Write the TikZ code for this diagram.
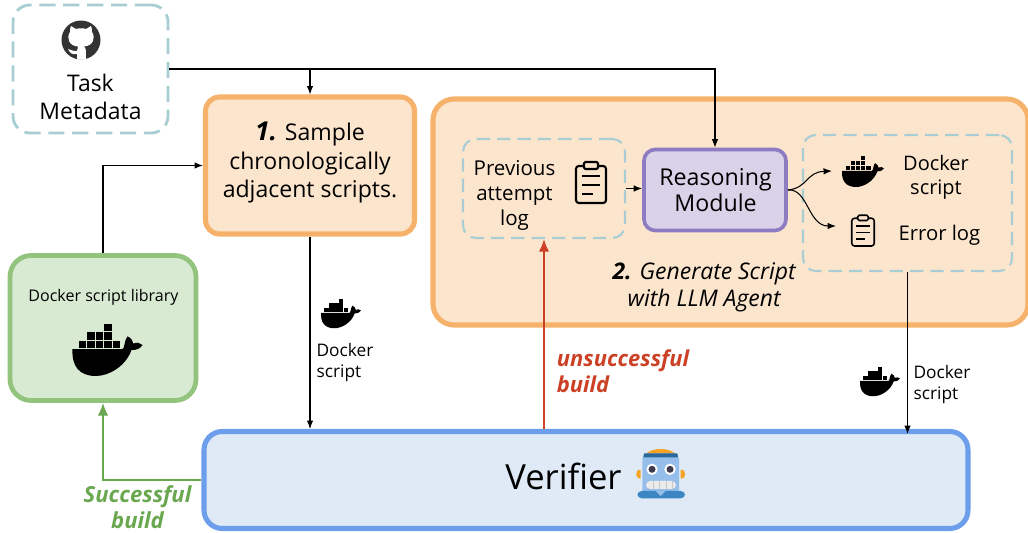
\documentclass[tikz,border=0pt]{standalone}
\usepackage{fontspec}
\setmainfont{Open Sans}
\usetikzlibrary{arrows.meta}
\usetikzlibrary{calc}
\definecolor{dashblue}{RGB}{168,205,211}
\definecolor{orangeline}{RGB}{246,178,107}
\definecolor{orangefill}{RGB}{252,229,205}
\definecolor{purpleline}{RGB}{142,124,195}
\definecolor{purplefill}{RGB}{217,210,233}
\definecolor{greenline}{RGB}{147,196,125}
\definecolor{greenfill}{RGB}{217,234,211}
\definecolor{blueline}{RGB}{109,158,235}
\definecolor{bluefill}{RGB}{223,234,246}
\definecolor{redarrow}{RGB}{204,65,37}
\definecolor{greenarrow}{RGB}{106,168,79}
\definecolor{robothead}{RGB}{150,190,235}
\definecolor{robotband}{RGB}{42,105,160}
\definecolor{robotbase}{RGB}{60,135,195}
\definecolor{robotear}{RGB}{245,165,35}
\definecolor{roboteye}{RGB}{62,58,80}
\def\u{0.025cm}
\tikzset{
	box/.style={draw, rounded corners=#1, inner sep=0pt},
	sizeof/.style n args={2}{minimum width=#1*\u, minimum height=#2*\u},
	taskbox/.style={box=12pt, dashblue, line width=2pt, dash pattern=on 11.5pt off 5.5pt},
	innerbox/.style={box=9pt, dashblue, line width=1.5pt, dash pattern=on 9.5pt off 5pt},
	stepbox/.style={box=10pt, orangeline, fill=orangefill, line width=3.6pt},
	link/.style={black, line width=0.75pt, -{Latex[length=6pt,width=4.6pt]}},
	redlink/.style={redarrow, line width=1.5pt, -{Latex[length=9pt,width=7.5pt]}},
	greenlink/.style={greenarrow, line width=1.4pt, -{Latex[length=9pt,width=7.5pt]}},
	txt/.style n args={2}{align=center, inner sep=0pt, font=\fontsize{#1pt}{#2pt}\selectfont},
	pics/whale/.style={code={
		\fill (-105,-6) -- (45,-6) .. controls (52,-8) and (50,-32) .. (60,-44)
			.. controls (70,-40) and (76,-32) .. (78,-22)
			.. controls (88,-28) and (98,-24) .. (105,-18)
			.. controls (98,-6) and (84,-2) .. (72,-3)
			.. controls (55,45) and (5,75) .. (-35,75)
			.. controls (-85,75) and (-108,45) .. (-105,-6) -- cycle;
		\foreach \bx/\by in {-87/-31,-61/-31,-35/-31,-10/-31,16/-31,-61/-56,-35/-56,-10/-56,-10/-81}
			\fill (\bx,\by) rectangle +(22,22);
	}},
	pics/clipboard/.style={code={
		\draw [rounded corners=2pt] (-15,-17) rectangle (15,20);
		\draw [rounded corners=1pt, fill=orangefill] (-7,-21) rectangle (7,-14);
		\draw (-9,-7) -- (9,-7);
		\draw (-9,2) -- (9,2);
		\draw (-9,11) -- (2,11);
	}},
	pics/octocat/.style={code={
		\fill [black!80] (0,0) circle (19.5);
		\fill [white] (-10,-14) -- (-5,-11) .. controls (-2,-12) and (2,-12) .. (5,-11) -- (10,-14)
			.. controls (11,-12) and (11,-10) .. (11,-8)
			.. controls (15,-2) and (12,6) .. (3,6.5)
			.. controls (5,8) and (5,10) .. (5,19.5) -- (-4,19.5) -- (-4,14)
			.. controls (-9,15) and (-11,13) .. (-13,9)
			.. controls (-11,9.5) and (-9,11) .. (-4,11)
			.. controls (-4,9) and (-4,8) .. (-3,6.5)
			.. controls (-12,6) and (-15,-2) .. (-11,-8)
			.. controls (-11,-10) and (-11,-12) .. (-10,-14) -- cycle;
	}},
	pics/robot/.style={code={
		\fill [robotear] (-60,-10) .. controls (-78,-15) and (-78,20) .. (-60,15) -- cycle;
		\fill [robotear] (60,-10) .. controls (78,-15) and (78,20) .. (60,15) -- cycle;
		\fill [robotear] (-45,-58) .. controls (-25,-78) and (25,-78) .. (45,-58) -- cycle;
		\fill [rounded corners=4pt, robothead] (-55,-60) rectangle (55,72);
		\fill [robotband] (-50,-60) -- (50,-60) -- (52,-48) -- (-52,-48) -- cycle;
		\foreach \ex in {-26,28} {
			\fill [white] (\ex,-12) circle (17);
			\fill [roboteye] (\ex,-12) circle (10.5);
		}
		\fill [rounded corners=3pt, black!8] (-44,23) rectangle (46,47);
		\foreach \tx in {-24,-4,16,34} \fill [black!22] (\tx,23) rectangle +(3,24);
		\fill [rounded corners=3pt, robotbase] (-70,53) rectangle (73,75);
		\fill [robothead] (-15,53) -- (15,53) -- (0,68) -- cycle;
	}},
}
\begin{document}
\begin{tikzpicture}[x=\u,y=-\u]
	\useasboundingbox (0,0) rectangle (1028,533);

	\node [taskbox, sizeof={155}{128}] (task) at (90.5,69) {};
	\node [stepbox, sizeof={209}{137}] (sample) at (310,165.5) {};
	\node [stepbox, sizeof={595}{226}, rounded corners=15pt] (generate) at (730.5,212) {};
	\node [box=15pt, greenline, fill=greenfill, line width=3.4pt, sizeof={186}{145}] (library) at (103,328) {};
	\node [box=13pt, blueline, fill=bluefill, line width=3.6pt, sizeof={764}{97}] (verifier) at (586,480) {};
	\node [innerbox, sizeof={162}{99}] (previous) at (544,188.5) {};
	\node [box=8pt, purpleline, fill=purplefill, line width=2.6pt, sizeof={142}{81}] (reasoning) at (715,190) {};
	\node [innerbox, sizeof={209}{136}] (output) at (907.5,203) {};

	\node [txt={16.3}{19.9}] (tasktext) at (90.5,97) {Task\\Metadata};
	\node [txt={16.4}{20.6}] (sampletext) at (310,162.5) {\textbf{\textit{\fontsize{18.5}{20.6}\selectfont 1.}} Sample\\chronologically\\adjacent scripts.};
	\node [txt={14.6}{17.6}] (previoustext) at (514.5,195.5) {Previous\\attempt\\log};
	\node [txt={16.5}{18.6}] (reasoningtext) at (715.5,190) {Reasoning\\Module};
	\node [txt={14.2}{17}] (outscript) at (936,177) {Docker\\script};
	\node [txt={14.4}{17}] (outerror) at (939.5,235) {Error log};
	\node [txt={16.3}{19.2}] (generatetext) at (704.5,287) {\textbf{\textit{2.}} \textit{Generate Script}\\\textit{with LLM Agent}};
	\node [txt={11.4}{14.6}] (librarytext) at (103.5,297) {Docker script library};
	\node [txt={12.3}{15}, align=left] (leftscript) at (345,362.5) {Docker\\script};
	\node [txt={12.3}{15}, align=left] (rightscript) at (942,384.5) {Docker\\script};
	\node [txt={24.6}{28}] (verifiertext) at (563.5,476) {Verifier};
	\node [align=left, inner sep=0pt, redarrow, font=\fontsize{15.6pt}{18.4pt}\selectfont\bfseries\itshape] (redtext) at (623,371.5) {unsuccessful\\build};
	\node [align=center, inner sep=0pt, greenarrow, font=\fontsize{15.7pt}{18.4pt}\selectfont\bfseries\itshape] (greentext) at (137.5,507) {Successful\\build};

	\pic [scale=1] at (81,40) {octocat};
	\pic [scale=1/3] at (107.5,351) {whale};
	\pic [scale=0.19] at (341,314) {whale};
	\pic [scale=0.19] at (880,382) {whale};
	\pic [scale=0.2] at (863,172) {whale};
	\pic [scale=1, line width=1.5pt] at (591,183) {clipboard};
	\pic [scale=0.75, line width=1.1pt] at (863,231) {clipboard};
	\pic [scale=1/3] at (660.7,473.3) {robot};

	\coordinate (whaleend) at (832,171);
	\coordinate (errorend) at (836,226);

	\draw [link] (task.east) -| (reasoning.north);
	\draw [link] (task.east -| sample.north) -- (sample.north);
	\draw [link] (library.north) |- (sample.west);
	\draw [link] (sample.south) -- (sample.south |- verifier.north);
	\draw [link] (output.south) -- ($(output.south |- verifier.north)+(0,5)$);
	\draw [link] (previous.east) -- (previous.east -| reasoning.west);
	\draw [link] (reasoning.east) .. controls (808,188) and (806,172) .. (whaleend);
	\draw [link] (reasoning.east) .. controls (808,188) and (808,226) .. (errorend);
	\draw [redlink] (previous.south |- verifier.north) -- (previous.south);
	\draw [greenlink] (verifier.west) -| (library.south);
\end{tikzpicture}
\end{document}
